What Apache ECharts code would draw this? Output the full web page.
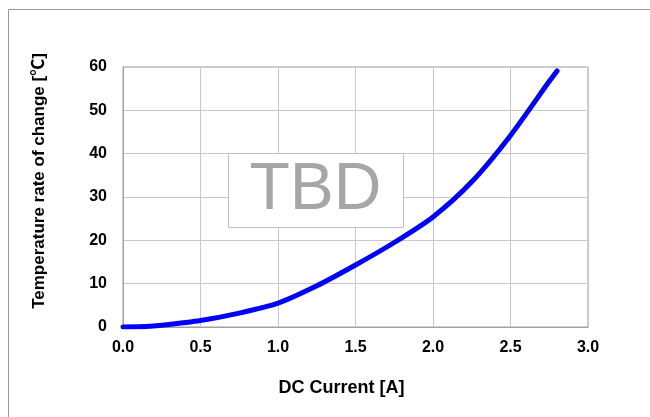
<!DOCTYPE html>
<html>
<head>
<meta charset="utf-8">
<script src="https://cdn.jsdelivr.net/npm/echarts@6/dist/echarts.min.js"></script>
<style>html,body{margin:0;padding:0;background:#fff;}#c{width:650px;height:417px;}</style>
</head>
<body>
<div id="c"></div>
<script>
const currentA = [0, 0.15, 0.25, 0.5, 0.75, 1.0, 1.25, 1.5, 1.75, 2.0, 2.25, 2.5, 2.75, 2.8];
const tempRise = [0, 0.1, 0.4, 1.5, 3.2, 5.5, 9.5, 14.3, 19.5, 25.4, 33.5, 44.2, 56.7, 59.1];
const xTicks = [0, 0.5, 1.0, 1.5, 2.0, 2.5, 3.0];
const yTicks = [0, 10, 20, 30, 40, 50, 60];
const xTitle = 'DC Current [A]';
const yTitle = 'Temperature rate of change [℃]';
const note = 'TBD';

const chart = echarts.init(document.getElementById('c'), null, {renderer: 'canvas'});
const font = '"Liberation Sans", Arial, "Noto Sans CJK JP", sans-serif';
chart.setOption({
  animation: false,
  backgroundColor: '#fff',
  grid: {left: 123, right: 62, top: 67, bottom: 90, show: true, borderColor: '#a0a0a0', borderWidth: 1},
  xAxis: {
    type: 'value', min: xTicks[0], max: xTicks[xTicks.length - 1], interval: 0.5,
    name: xTitle, nameLocation: 'middle', nameGap: 52,
    nameTextStyle: {fontFamily: font, fontWeight: 'bold', fontSize: 18, color: '#000', padding: [0, 28, 0, 0]},
    axisLine: {show: true, lineStyle: {color: '#a0a0a0'}},
    axisTick: {show: false},
    axisLabel: {fontFamily: font, fontWeight: 'bold', fontSize: 16, color: '#000', margin: 13,
      formatter: v => v.toFixed(1)},
    splitLine: {show: true, lineStyle: {color: '#c8c8c8'}}
  },
  yAxis: {
    type: 'value', min: yTicks[0], max: yTicks[yTicks.length - 1], interval: 10,
    name: yTitle, nameLocation: 'middle', nameGap: 75, nameRotate: 90,
    nameTextStyle: {fontFamily: font, fontWeight: 'bold', fontSize: 17, color: '#000', padding: [0, 0, 0, 32]},
    axisLine: {show: true, lineStyle: {color: '#a0a0a0'}},
    axisTick: {show: false},
    axisLabel: {fontFamily: font, fontWeight: 'bold', fontSize: 16, color: '#000', margin: 16},
    splitLine: {show: true, lineStyle: {color: '#c8c8c8'}}
  },
  series: [{
    type: 'line',
    data: currentA.map((x, i) => [x, tempRise[i]]),
    smooth: 0.25,
    showSymbol: false,
    lineStyle: {color: '#0000ff', width: 5, cap: 'round', join: 'round'},
    z: 5
  }],
  graphic: [
    {type: 'rect', shape: {x: 8.5, y: 9.5, width: 800, height: 600}, style: {fill: 'none', stroke: '#9a9a9a', lineWidth: 1}, silent: true, z: -10},
    {type: 'rect', shape: {x: 228.5, y: 153.5, width: 175, height: 74}, style: {fill: '#fff', stroke: '#c0c0c0', lineWidth: 1}, z: 10},
    {type: 'text', x: 315.5, y: 191, z: 11,
     style: {text: note, fontFamily: font, fontSize: 66, fill: '#a6a6a6', textAlign: 'center', textVerticalAlign: 'middle'}}
  ]
});
</script>
</body>
</html>
